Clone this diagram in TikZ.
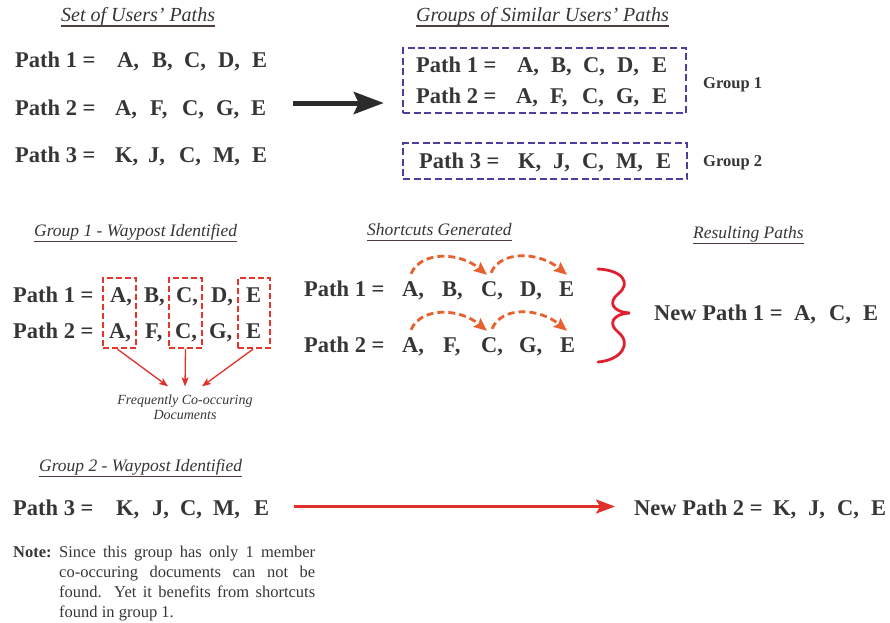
\documentclass[tikz,border=0pt]{standalone}
\usepackage{fontspec}
\setmainfont{Liberation Serif}
\usetikzlibrary{arrows.meta,calc}
\definecolor{txt}{HTML}{363636}
\definecolor{uln}{HTML}{4D3D3D}
\definecolor{grpblue}{HTML}{4A3F9F}
\definecolor{boxred}{HTML}{E5362E}
\definecolor{arrred}{HTML}{E0302A}
\definecolor{scorange}{HTML}{E8602C}
\definecolor{bracered}{HTML}{E02030}
\definecolor{blackarr}{HTML}{2B2B2B}
\newcommand\sq{{\char"0027}}
\tikzset{
  pl/.style={font=\fontsize{22.5}{27}\selectfont\bfseries, text=txt, anchor=base west, inner sep=0pt, text height=15pt, text depth=4pt},
  ttlA/.style={font=\fontsize{20}{24}\selectfont\itshape, text=txt, anchor=base west, inner sep=0pt},
  ttlB/.style={font=\fontsize{17.5}{21}\selectfont\itshape, text=txt, anchor=base west, inner sep=0pt},
  uline/.style={draw=uln, line width=1.2pt},
  grpbox/.style={draw=grpblue, line width=2.4pt, dash pattern=on 7pt off 3.5pt, inner sep=0pt},
  redbox/.style={draw=boxred, line width=2.4pt, dash pattern=on 6pt off 3pt, inner sep=0pt},
  glbl/.style={font=\fontsize{16.5}{20}\selectfont\bfseries, text=txt, anchor=base west, inner sep=0pt},
  fcdstyle/.style={font=\fontsize{14}{15}\selectfont\itshape, text=txt, align=center, inner sep=0pt},
  redarr/.style={draw=arrred, line width=1.3pt, -{Stealth[length=9pt,width=7pt,inset=2pt]}},
  scarr/.style={draw=scorange, line width=2.8pt, dash pattern=on 7pt off 4pt, -{Stealth[length=13pt,width=11pt,inset=2pt]}},
  bracestyle/.style={draw=bracered, line width=2.8pt, line cap=round},
  bigarr/.style={draw=blackarr, line width=5pt, -{Stealth[length=30pt,width=22pt,inset=5pt]}},
  redbig/.style={draw=arrred, line width=3pt, -{Stealth[length=19pt,width=14pt,inset=4pt]}},
  notebold/.style={font=\fontsize{16.5}{20}\selectfont\bfseries, text=txt, anchor=base west, inner sep=0pt},
  notetxt/.style={font=\fontsize{16.5}{20}\selectfont, text=txt, anchor=base west, inner sep=0pt},
}
\newcommand\prow[5]{%
  \node[pl] (#1-0) at (#2,#3) {#4};
  \foreach \xx/\ll [count=\i] in {#5} {\node[pl] (#1-\i) at (\xx,#3) {\ll\ifnum\i<5,\fi};}%
}
\newcommand\ttlu[5]{%
  \node[#1] (#2) at (#3,#4) {#5};
  \draw[uline] ([yshift=-5pt]#2.base west) -- ([yshift=-5pt]#2.base east);%
}
\begin{document}
\begin{tikzpicture}[x=1pt,y=-1pt]
\path[use as bounding box] (0,0) rectangle (890,622);

% ---- Top section ----
\ttlu{ttlA}{tset}{61}{21}{Set of Users\sq{} Paths}
\ttlu{ttlA}{tgrp}{416}{21}{Groups of Similar Users\sq{} Paths}

\prow{t1}{15}{67}{Path 1 =}{117/A,152/B,184/C,218/D,252/E}
\prow{t2}{15}{115}{Path 2 =}{115/A,150/F,182/C,216/G,251/E}
\prow{t3}{15}{162}{Path 3 =}{115/K,148/J,179/C,213/M,252/E}

\node[grpbox, minimum width=283pt, minimum height=65pt] (g1) at (544.5,80.5) {};
\node[grpbox, minimum width=284pt, minimum height=36pt] (g2) at (545,161) {};
\prow{ga}{416}{72}{Path 1 =}{517/A,551/B,583/C,617/D,652/E}
\prow{gb}{416}{103}{Path 2 =}{516/A,550/F,582/C,616/G,652/E}
\prow{gc}{419}{168}{Path 3 =}{518/K,553/J,582/C,616/M,656/E}
\node[glbl] (gl1) at (703,88.5) {Group 1};
\node[glbl] (gl2) at (703,166.5) {Group 2};

\coordinate (ast) at ([xshift=27pt,yshift=6.5pt]t2-5.east);
\draw[bigarr] (ast) -- ($(ast -| g1.west)+(-18,0)$);

% ---- Group 1 waypost ----
\ttlu{ttlB}{tw1}{34}{236.5}{Group 1 - Waypost Identified}
\prow{w1}{13}{302}{Path 1 =}{110/A,144/B,176/C,211/D,246/E}
\prow{w2}{13}{338}{Path 2 =}{109/A,145/F,175/C,209/G,246/E}
\node[redbox, minimum width=33pt, minimum height=70pt] (wa) at (119.5,313) {};
\node[redbox, minimum width=33pt, minimum height=70pt] (wc) at (185.5,313) {};
\node[redbox, minimum width=32pt, minimum height=70pt] (we) at (254,313) {};
\node[fcdstyle] (fcd) at (185,407) {Frequently Co-occuring\\Documents};
\draw[redarr] ([xshift=-2pt]wa.south) -- ([xshift=-17pt,yshift=8pt]fcd.north);
\draw[redarr] (wc.south) -- ([yshift=8pt]fcd.north);
\draw[redarr] ([xshift=-1pt]we.south) -- ([xshift=17pt,yshift=8pt]fcd.north);

% ---- Shortcuts ----
\ttlu{ttlB}{tsc}{367}{235.5}{Shortcuts Generated}
\prow{s1}{304}{296}{Path 1 =}{402/A,442/B,481/C,520/D,559/E}
\prow{s2}{304}{352}{Path 2 =}{402/A,443/F,481/C,519/G,560/E}
\draw[scarr] ([xshift=9pt,yshift=7pt]s1-1.north west) .. controls +(10,-23) and +(-28,-23) .. ([xshift=6pt,yshift=6pt]s1-3.north west);
\draw[scarr] ([xshift=10pt,yshift=8pt]s1-3.north west) .. controls +(10,-23) and +(-28,-23) .. ([xshift=8pt,yshift=6pt]s1-5.north west);
\draw[scarr] ([xshift=9pt,yshift=7pt]s2-1.north west) .. controls +(10,-23) and +(-28,-23) .. ([xshift=6pt,yshift=6pt]s2-3.north west);
\draw[scarr] ([xshift=11pt,yshift=8pt]s2-3.north west) .. controls +(10,-23) and +(-28,-23) .. ([xshift=7pt,yshift=6pt]s2-5.north west);

\draw[bracestyle] (598,269) .. controls (622,270) and (632,283) .. (618,294)
  .. controls (608,302) and (612,312) .. (630,313)
  .. controls (612,314) and (608,324) .. (618,332)
  .. controls (632,343) and (622,360) .. (598,362);

\ttlu{ttlB}{trp}{693}{238.5}{Resulting Paths}
\node[pl] (np1-0) at (654,320) {New Path 1 =};
\node[pl] (np1-1) at (794,320) {A,};
\node[pl] (np1-2) at (829,320) {C,};
\node[pl] (np1-3) at (863,320) {E};

% ---- Group 2 ----
\ttlu{ttlB}{tw2}{39}{471.5}{Group 2 - Waypost Identified}
\prow{b}{13}{515}{Path 3 =}{116/K,152/J,180/C,213/M,254/E}
\node[pl] (np2-0) at (634,515) {New Path 2 =};
\node[pl] (np2-1) at (773,515) {K,};
\node[pl] (np2-2) at (808,515) {J,};
\node[pl] (np2-3) at (837,515) {C,};
\node[pl] (np2-4) at (871,515) {E};
\draw[redbig] ([xshift=25pt,yshift=3pt]b-5.east) -- ([xshift=-19pt,yshift=3pt]np2-0.west);

\node[notebold] (nb) at (13,557) {Note:};
\node[notetxt] (n1) at (59,557) {\makebox[256pt][s]{Since this group has only 1 member}};
\node[notetxt] (n2) at (59,577) {\makebox[256pt][s]{co-occuring documents can not be}};
\node[notetxt] (n3) at (59,597) {\makebox[256pt][s]{found. Yet it benefits from shortcuts}};
\node[notetxt] (n4) at (59,617) {found in group 1.};
\end{tikzpicture}
\end{document}
